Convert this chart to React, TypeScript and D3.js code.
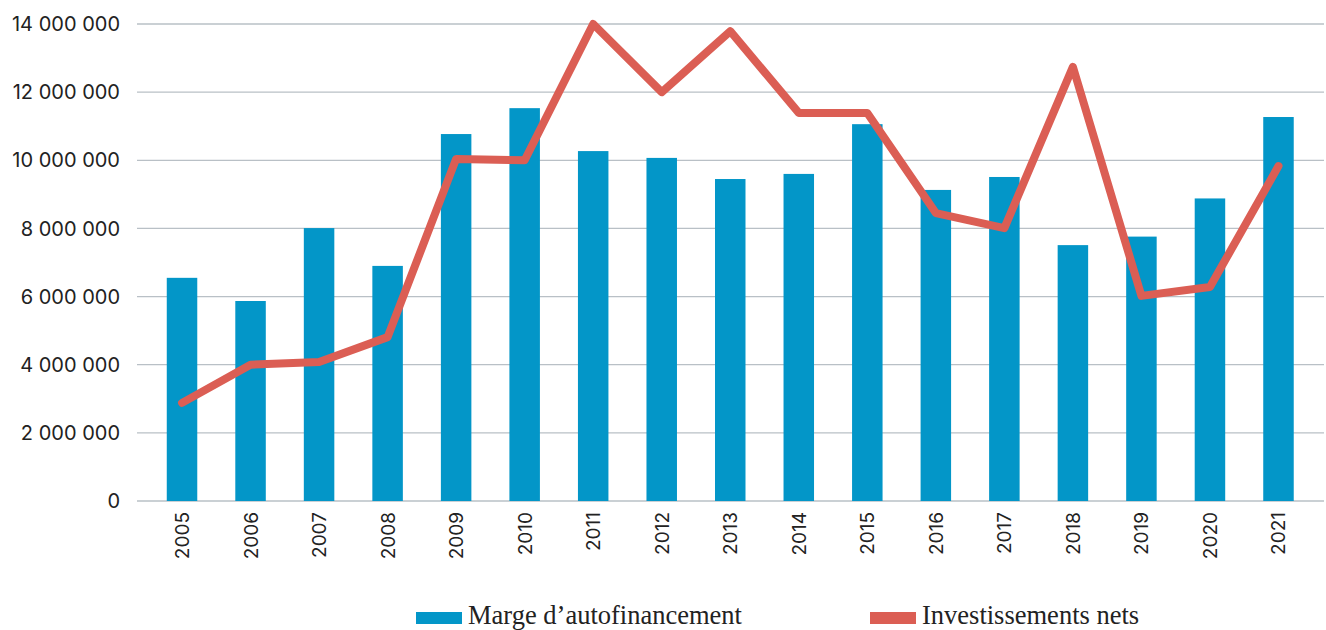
import React from "react";
import * as d3 from "d3";

const years = ["2005","2006","2007","2008","2009","2010","2011","2012","2013","2014","2015","2016","2017","2018","2019","2020","2021"];
const marge = [6550000,5870000,8010000,6900000,10770000,11530000,10270000,10070000,9450000,9600000,11060000,9130000,9510000,7510000,7760000,8880000,11270000];
const invest = [2880000,4000000,4080000,4810000,10040000,10000000,14000000,12000000,13790000,11390000,11390000,8450000,8010000,12740000,6020000,6280000,9830000];
const yTicks = [0,2000000,4000000,6000000,8000000,10000000,12000000,14000000];
const seriesNames = ["Marge d’autofinancement", "Investissements nets"];

const W = 1326, H = 630;
const BLUE = "#0396c8";
const RED = "#db5e54";

function fmt(v: number) {
  return d3.format(",")(v).replace(/,/g, " ");
}

export default function App() {
  const x = d3.scaleBand<string>().domain(years).range([147.75, 1312.75]).paddingInner(0.555).paddingOuter(0.2775);
  const y = d3.scaleLinear().domain([0, 14000000]).range([501, 24]);
  const line = d3.line<number>()
    .x((_, i) => (x(years[i]) as number) + x.bandwidth() / 2)
    .y((d) => y(d));
  return (
    <svg width={W} height={H} style={{ position: "absolute", left: 0, top: 0 }}>
      <rect width={W} height={H} fill="#fff" />
      {yTicks.map((t) => (
        <g key={t}>
          <line x1={137} x2={1324} y1={y(t)} y2={y(t)} stroke="#b9c0c6" strokeWidth={1.3} />
          <text x={120} y={y(t)} dy="0.36em" textAnchor="end" fontFamily="Inter, 'Noto Sans', sans-serif" fontSize={20} fill="#222">{fmt(t)}</text>
        </g>
      ))}
      {years.map((yr, i) => (
        <rect key={yr} x={x(yr)} y={y(marge[i])} width={x.bandwidth()} height={y(0) - y(marge[i])} fill={BLUE} />
      ))}
      <path d={line(invest) || ""} fill="none" stroke={RED} strokeWidth={8} strokeLinejoin="round" strokeLinecap="round" />
      {years.map((yr) => {
        const cx = (x(yr) as number) + x.bandwidth() / 2;
        return (
          <text key={yr} transform={`translate(${cx + 7},${512}) rotate(-90)`} textAnchor="end" fontFamily="Inter, 'Noto Sans', sans-serif" fontSize={19} fill="#222">{yr}</text>
        );
      })}
      <rect x={416} y={612} width={46} height={12} fill={BLUE} />
      <text x={468} y={623.5} fontFamily="'Liberation Serif', serif" fontSize={26.5} fill="#222">{seriesNames[0]}</text>
      <rect x={870} y={612} width={46} height={12} fill={RED} />
      <text x={922} y={623.5} fontFamily="'Liberation Serif', serif" fontSize={26.5} fill="#222">{seriesNames[1]}</text>
    </svg>
  );
}
